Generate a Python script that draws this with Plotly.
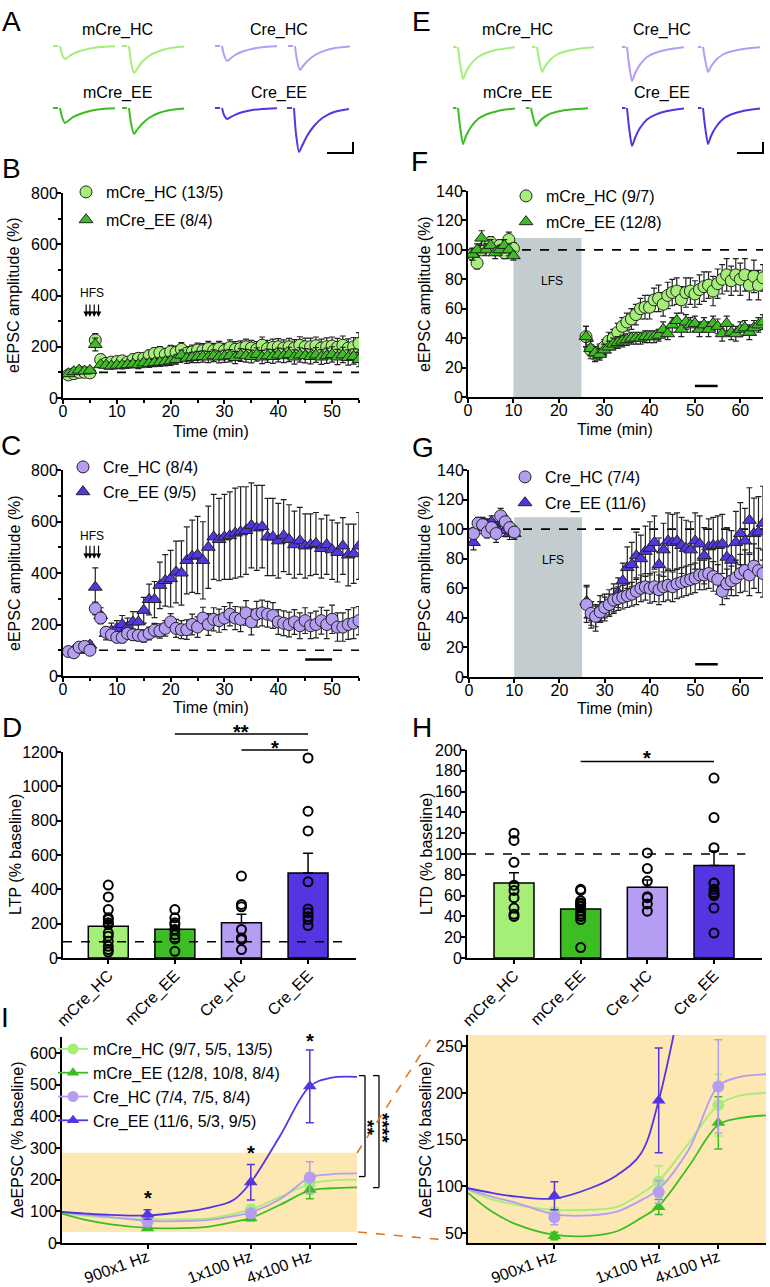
import plotly.graph_objects as go

W, H = 770, 1287
FONT = "Arial, Liberation Sans, sans-serif"

# colours
MHC = "#a5ee78"   # mCre_HC
MEE = "#3dbd24"   # mCre_EE
CHC = "#b49df2"   # Cre_HC
CEE = "#5534e2"   # Cre_EE
EDGE = "#222222"
YELLOW = "#fde8b4"

# ---------------- data ----------------
# A / E example traces (pA)
slow_t = [0, 5, 5.5, 7, 9, 12, 15, 20, 27, 36, 47, 62]
fast_t = [0, 3.5, 4, 5, 7, 10, 13, 18, 25, 33, 45, 62]

a_mhc_pre = [0, 0, None, 0, -8, -13, -11, -8, -5, -2.7, -1.1, -0.3]
a_mhc_post = [0, 0, None, 0, -16, -27, -23, -16, -10, -5.5, -2.3, -0.5]
a_chc_pre = [0, 0, None, 0, -9, -15, -13, -9, -5.8, -3.1, -1.3, -0.3]
a_chc_post = [0, 0, None, 0, -14, -24, -20, -14.5, -9, -4.9, -2, -0.5]
a_mee_pre = [0, 0, None, 0, -9, -15, -13, -9.2, -6, -3.2, -1.3, -0.3]
a_mee_post = [0, 0, None, 0, -15, -26, -22, -16, -10, -5.3, -2.2, -0.5]
a_cee_pre = [0, 0, None, 0, -7, -11, -9.5, -6.8, -4.3, -2.3, -0.9, -0.2]
a_cee_post = [0, 0, None, 0, -26, -44, -38, -28, -18, -9.5, -4, -1]

e_mhc_pre = [0, 0, None, 0, -16, -32, -25, -17, -10, -6, -2.6, -0.3]
e_mhc_post = [0, 0, None, 0, -12, -25, -19.5, -13, -7.5, -4.5, -2, -0.3]
e_chc_pre = [0, 0, None, 0, -17, -34, -26.5, -17.7, -10, -6, -2.7, -0.3]
e_chc_post = [0, 0, None, 0, -12, -25, -19.5, -13, -7.5, -4.5, -2, -0.3]
e_mee_pre = [0, 0, None, 0, -18, -36, -28, -19, -11, -6.5, -2.9, -0.4]
e_mee_post = [0, 0, None, 0, -9, -18, -14, -9.4, -5.4, -3.2, -1.4, -0.2]
e_cee_pre = [0, 0, None, 0, -19, -38, -30, -20, -11.4, -6.8, -3, -0.4]
e_cee_post = [0, 0, None, 0, -18, -36, -28, -19, -11, -6.5, -2.9, -0.4]

# B / C: LTP time course (% of baseline)
bc_time = list(range(1, 56))
b_mhc = [90, 95, 100, 100, 98, 226, 150, 135, 140, 142,
         145, 140, 150, 155, 155, 165, 174, 177, 170, 180,
         178, 190, 175, 180, 187, 185, 193, 185, 193, 185,
         197, 190, 193, 200, 195, 190, 206, 193, 198, 200,
         195, 200, 195, 206, 200, 200, 204, 195, 200, 203,
         198, 206, 195, 200, 213]
b_mhc_err = [12, 10, 8, 10, 10, 25, 20, 15, 15, 18,
             18, 18, 20, 20, 20, 22, 22, 24, 24, 25,
             25, 26, 26, 26, 27, 27, 28, 28, 28, 28,
             30, 30, 30, 30, 30, 30, 32, 32, 32, 32,
             32, 33, 33, 33, 34, 34, 34, 35, 35, 35,
             35, 36, 36, 36, 42]
b_mee = [95, 103, 109, 105, 108, 209, 130, 128, 125, 128,
         128, 130, 132, 130, 137, 135, 138, 140, 142, 145,
         150, 167, 155, 158, 160, 162, 160, 165, 160, 163,
         165, 158, 168, 165, 162, 170, 160, 165, 162, 168,
         165, 170, 160, 168, 165, 162, 168, 160, 165, 170,
         160, 168, 158, 162, 150]
b_mee_err = [10, 10, 8, 8, 10, 25, 12, 12, 12, 12,
             14, 14, 14, 15, 15, 16, 16, 17, 17, 18,
             18, 20, 20, 20, 22, 22, 22, 23, 23, 24,
             24, 24, 25, 25, 25, 26, 26, 26, 27, 27,
             27, 28, 28, 28, 28, 29, 29, 29, 30, 30,
             30, 30, 30, 30, 28]
c_chc = [95, 90, 112, 115, 100, 262, 225, 170, 160, 150,
         150, 165, 160, 158, 155, 165, 178, 175, 185, 210,
         185, 180, 180, 200, 190, 225, 200, 220, 215, 225,
         240, 225, 220, 245, 210, 240, 245, 240, 235, 210,
         205, 200, 210, 195, 215, 195, 200, 215, 200, 220,
         190, 190, 200, 205, 215]
c_chc_err = [8, 8, 10, 10, 10, 25, 22, 18, 18, 18,
             20, 20, 22, 22, 24, 25, 26, 28, 30, 32,
             35, 35, 38, 40, 40, 42, 42, 45, 45, 45,
             45, 45, 48, 48, 50, 50, 50, 50, 50, 48,
             48, 48, 48, 50, 50, 50, 52, 52, 55, 55,
             55, 55, 58, 60, 55]
c_cee = [95, 100, 105, 100, 120, 345, 235, 165, 175, 185,
         200, 190, 210, 210, 255, 297, 297, 352, 371, 378,
         404, 400, 449, 465, 470, 449, 500, 540, 530, 540,
         545, 555, 560, 565, 585, 575, 580, 540, 540, 525,
         545, 530, 510, 525, 505, 510, 515, 495, 510, 490,
         480, 505, 470, 475, 505]
c_cee_err = [10, 10, 10, 10, 15, 75, 30, 25, 30, 30,
             35, 35, 40, 40, 50, 60, 70, 90, 100, 110,
             120, 125, 130, 140, 150, 150, 160, 165, 160, 165,
             170, 175, 175, 170, 165, 165, 160, 150, 150, 145,
             140, 135, 130, 130, 125, 120, 120, 115, 115, 115,
             115, 110, 120, 115, 130]

# F / G: LTD time course (% of baseline)
fg_time = list(range(1, 11)) + list(range(26, 66))
f_mhc = [97, 91, 100, 103, 105, 100, 103, 98, 107, 101,
         41, 32, 29, 31, 34, 38, 40, 44, 48, 51,
         53, 56, 60, 61, 61, 66, 67, 63, 69, 71,
         72, 66, 71, 72, 70, 73, 75, 76, 72, 77,
         80, 83, 79, 83, 80, 83, 76, 82, 76, 81]
f_mhc_err = [4, 4, 3, 4, 4, 3, 4, 4, 5, 4,
             7, 6, 5, 5, 5, 6, 6, 6, 6, 6,
             7, 7, 7, 8, 8, 8, 9, 8, 9, 9,
             9, 9, 10, 9, 9, 10, 10, 9, 10, 10,
             10, 11, 10, 11, 11, 11, 10, 11, 10, 9]
f_mee = [97, 100, 108, 100, 103, 98, 100, 103, 100, 96,
         41, 33, 30, 29, 32, 34, 36, 37, 38, 39,
         40, 40, 40, 41, 41, 41, 42, 46, 43, 49,
         52, 46, 51, 49, 50, 46, 49, 46, 50, 48,
         43, 50, 44, 43, 46, 47, 44, 47, 49, 51]
f_mee_err = [4, 4, 5, 4, 4, 4, 3, 4, 4, 3,
             7, 5, 4, 4, 4, 4, 4, 4, 4, 4,
             4, 4, 4, 4, 4, 4, 4, 5, 4, 5,
             5, 5, 5, 5, 5, 5, 5, 5, 5, 5,
             5, 5, 5, 5, 5, 5, 5, 5, 5, 5]
g_chc = [97, 104, 103, 98, 101, 97, 109, 105, 101, 98,
         49, 43, 41, 44, 47, 49, 52, 53, 54, 55,
         56, 58, 60, 61, 60, 61, 59, 61, 62, 61,
         63, 64, 65, 66, 67, 69, 69, 70, 68, 66,
         58, 63, 65, 67, 70, 72, 69, 75, 72, 70]
g_chc_err = [4, 4, 4, 4, 4, 6, 5, 4, 4, 4,
             12, 8, 7, 7, 7, 7, 8, 8, 8, 8,
             8, 9, 9, 9, 10, 10, 10, 10, 10, 10,
             10, 10, 10, 10, 10, 10, 10, 10, 10, 10,
             9, 10, 10, 12, 13, 14, 14, 15, 15, 16]
g_cee = [91, 101, 104, 103, 105, 101, 104, 99, 97, 97,
         51, 42, 40, 46, 47, 50, 53, 57, 65, 74,
         76, 82, 80, 85, 87, 91, 76, 86, 92, 91,
         92, 89, 87, 86, 92, 90, 82, 88, 89, 89,
         90, 81, 79, 91, 97, 92, 106, 97, 98, 104]
g_cee_err = [5, 4, 4, 4, 4, 4, 4, 4, 4, 4,
             11, 9, 9, 9, 9, 9, 10, 10, 12, 14,
             15, 16, 16, 17, 18, 18, 18, 18, 19, 19,
             19, 19, 19, 19, 19, 19, 19, 19, 19, 20,
             20, 20, 20, 21, 21, 22, 22, 24, 24, 25]

# D / H: summary bars
groups = ["mCre_HC", "mCre_EE", "Cre_HC", "Cre_EE"]
d_mean = [185, 167, 205, 495]
d_sem = [25, 22, 50, 115]
d_mhc_pts = [425, 356, 282, 234, 224, 205, 195, 146, 127, 97, 68, 49, 35]
d_mee_pts = [282, 234, 205, 195, 166, 136, 111, 39]
d_chc_pts = [477, 312, 298, 166, 117, 110, 107, 49]
d_cee_pts = [1165, 855, 740, 444, 286, 263, 240, 224, 189]
h_mean = [72, 47, 68, 89]
h_sem = [10, 4, 7, 14]
h_mhc_pts = [120, 113, 92, 70, 65, 58, 48, 42, 40]
h_mee_pts = [66, 65, 55, 53, 52, 50, 49, 45, 42, 40, 37, 10]
h_chc_pts = [101, 86, 74, 59, 58, 52, 45]
h_cee_pts = [173, 135, 106, 72, 66, 63, 61, 60, 48, 24, 72]

# I: frequency response (mean, sem) and fitted curves
i_x = [2.9, 6.4, 8.4]
i_labels = ["900x1 Hz", "1x100 Hz", "4x100 Hz"]
i_mhc = [72, 105, 187]
i_mhc_err = [5, 17, 33]
i_mee = [47, 78, 168]
i_mee_err = [4, 8, 28]
i_chc = [67, 94, 207]
i_chc_err = [8, 12, 50]
i_cee = [90, 192, 495]
i_cee_err = [15, 56, 115]
fit_x = [0, 0.8, 1.65, 2.9, 4.1, 5.0, 5.8, 6.4, 7.4, 8.4, 9.1, 10]
fit_mhc = [96, 86, 80, 75, 75, 78, 92, 106, 146, 187, 197, 200]
fit_mee = [93, 73, 59, 48, 47, 52, 66, 79, 121, 166, 173, 176]
fit_chc = [97, 89, 82, 70, 69, 73, 85, 97, 139, 207, 217, 220]
fit_cee = [98, 93, 89, 87, 98, 112, 135, 192, 340, 495, 522, 525]

# ---------------- figure ----------------
fig = go.Figure()
axes_layout = {}
count = [0]


def new_axes(x0, x1, y0, y1, xkw, ykw):
    count[0] += 1
    s = "" if count[0] == 1 else str(count[0])
    axes_layout["xaxis" + s] = dict(domain=[x0 / W, x1 / W], anchor="y" + s, **xkw)
    axes_layout["yaxis" + s] = dict(domain=[1 - y1 / H, 1 - y0 / H], anchor="x" + s, **ykw)
    return "x" + s, "y" + s


def axis(standoff=-4, **kw):
    d = dict(showline=True, linecolor="black", linewidth=2, ticks="outside", ticklen=4,
             tickwidth=2, tickcolor="black", showgrid=False, zeroline=False, automargin=False,
             ticklabelstandoff=standoff, tickfont=dict(family=FONT, size=16, color="black"))
    d.update(kw)
    return d


MINOR = lambda step: dict(dtick=step, ticklen=3, tickwidth=1.5, tickcolor="black", ticks="outside")
HIDDEN = dict(visible=False, showgrid=False, zeroline=False)

shapes = []
annotations = []


def text(x, y, s, size=16, **kw):
    annotations.append(dict(x=x / W, y=1 - y / H, xref="paper", yref="paper", text=s,
                            xanchor="center", yanchor="middle", showarrow=False,
                            font=dict(family=FONT, size=size, color="black"), **kw))


def hline(xa, ya, x0, x1, y, dash="dash", width=1.6, layer="below"):
    shapes.append(dict(type="line", xref=xa, yref=ya, x0=x0, x1=x1, y0=y, y1=y,
                       line=dict(color="black", width=width, dash=dash), layer=layer))


def tc(xa, ya, t, v, e, color, symbol, name, legend, rank, size=12):
    fig.add_trace(go.Scatter(
        x=t, y=v, mode="markers", name=name, xaxis=xa, yaxis=ya, legend=legend,
        legendgroup=name, legendrank=rank,
        marker=dict(symbol=symbol, size=size, color=color, line=dict(color=EDGE, width=1)),
        error_y=dict(type="data", array=e, color=EDGE, thickness=1.2, width=3)))


# ----- A and E example traces
def trace_axes(x0, base, t, vals, color):
    xa, ya = new_axes(x0, x0 + 62, base - 5, base + 45,
                      dict(HIDDEN, range=[0, 62]), dict(HIDDEN, range=[-45, 5]))
    fig.add_trace(go.Scatter(x=t, y=vals, mode="lines", xaxis=xa, yaxis=ya, showlegend=False,
                             line=dict(color=color, width=2, shape="spline", smoothing=0.6),
                             hoverinfo="skip"))


for x0, base, vals, col in [(53, 46, a_mhc_pre, MHC), (122, 46, a_mhc_post, MHC),
                            (215, 46, a_chc_pre, CHC), (288, 46, a_chc_post, CHC),
                            (53, 108, a_mee_pre, MEE), (122, 108, a_mee_post, MEE),
                            (215, 108, a_cee_pre, CEE), (287, 108, a_cee_post, CEE)]:
    trace_axes(x0, base, slow_t, vals, col)
for x0, base, vals, col in [(453, 47, e_mhc_pre, MHC), (532, 47, e_mhc_post, MHC),
                            (622, 47, e_chc_pre, CHC), (698, 47, e_chc_post, CHC),
                            (453, 108, e_mee_pre, MEE), (526, 108, e_mee_post, MEE),
                            (622, 108, e_cee_pre, CEE), (698, 108, e_cee_post, CEE)]:
    trace_axes(x0, base, fast_t, vals, col)

for cx, lab in [(117, "mCre_HC"), (279, "Cre_HC"), (517, "mCre_HC"), (662, "Cre_HC")]:
    text(cx, 30, lab)
for cx, lab in [(117, "mCre_EE"), (279, "Cre_EE"), (517, "mCre_EE"), (662, "Cre_EE")]:
    text(cx, 93, lab)
for x1 in (353, 763):
    shapes.append(dict(type="path", xref="paper", yref="paper",
                       path=f"M{(x1 - 26) / W},{1 - 153 / H} L{x1 / W},{1 - 153 / H} L{x1 / W},{1 - 142 / H}",
                       line=dict(color="black", width=2)))

# ----- B
xb, yb = new_axes(63, 359, 193, 398,
                  axis(standoff=-6, range=[0, 55], dtick=10, minor=MINOR(5)),
                  axis(range=[0, 800], dtick=200, minor=MINOR(100)))
hline(xb, yb, 0, 55, 100)
tc(xb, yb, bc_time, b_mhc, b_mhc_err, MHC, "circle", "mCre_HC (13/5)", "legend", 1)
tc(xb, yb, bc_time, b_mee, b_mee_err, MEE, "triangle-up", "mCre_EE (8/4)", "legend", 2)
hline(xb, yb, 45, 50, 62, dash="solid", width=2.5, layer="above")

# ----- C
xc, yc = new_axes(63, 359, 470, 676,
                  axis(standoff=-6, range=[0, 55], dtick=10, minor=MINOR(5)),
                  axis(range=[0, 800], dtick=200, minor=MINOR(100)))
hline(xc, yc, 0, 55, 100)
tc(xc, yc, bc_time, c_cee, c_cee_err, CEE, "triangle-up", "Cre_EE (9/5)", "legend2", 2)
tc(xc, yc, bc_time, c_chc, c_chc_err, CHC, "circle", "Cre_HC (8/4)", "legend2", 1)
hline(xc, yc, 45, 50, 64, dash="solid", width=2.5, layer="above")

# HFS arrows
hfs_t = [4.3, 5.0, 5.8, 6.6]
for xa, ya, top, tip, ty in [(xb, yb, 371, 316, 410), (xc, yc, 512, 455, 544)]:
    annotations.append(dict(x=5.4, y=ty, xref=xa, yref=ya, text="HFS", showarrow=False,
                            font=dict(family=FONT, size=12, color="black")))
    for t in hfs_t:
        annotations.append(dict(x=t, y=tip, ax=t, ay=top, xref=xa, yref=ya, axref=xa, ayref=ya,
                                text="", showarrow=True, arrowhead=2, arrowsize=0.9,
                                arrowwidth=1.2, arrowcolor="black"))

# ----- D
xd, yd = new_axes(63, 356, 752, 958,
                  axis(range=[-0.68, 3.72], tickvals=[0, 1, 2, 3], ticktext=groups, tickangle=-45),
                  axis(range=[0, 1200], dtick=200))
fig.add_trace(go.Bar(x=[0, 1, 2, 3], y=d_mean, xaxis=xd, yaxis=yd, width=0.6, showlegend=False,
                     marker=dict(color=[MHC, MEE, CHC, CEE], line=dict(color="black", width=1.5)),
                     error_y=dict(type="data", symmetric=False, array=d_sem, arrayminus=[0] * 4,
                                  color="black", thickness=1.5, width=5)))
for i, pts in enumerate([d_mhc_pts, d_mee_pts, d_chc_pts, d_cee_pts]):
    fig.add_trace(go.Scatter(x=[i] * len(pts), y=pts, mode="markers", xaxis=xd, yaxis=yd,
                             showlegend=False,
                             marker=dict(symbol="circle-open", size=9, color="black", line=dict(width=2))))
hline(xd, yd, -0.68, 3.52, 95, layer="above")

# ----- F
xf, yf = new_axes(468, 763, 191, 397,
                  axis(standoff=-6, range=[0, 65], dtick=10),
                  axis(range=[0, 140], dtick=20))
# ----- G
xg, yg = new_axes(469, 763, 470, 677,
                  axis(standoff=-6, range=[0, 65], dtick=10),
                  axis(range=[0, 140], dtick=20))
for xa, ya in [(xf, yf), (xg, yg)]:
    shapes.append(dict(type="rect", xref=xa, yref=ya, x0=10, x1=25, y0=0, y1=108,
                       fillcolor="#c3cdcf", line=dict(width=0), layer="below"))
    hline(xa, ya, 0, 65, 100)
    annotations.append(dict(x=18.5, y=79, xref=xa, yref=ya, text="LFS", showarrow=False,
                            font=dict(family=FONT, size=12, color="black")))
tc(xf, yf, fg_time, f_mhc, f_mhc_err, MHC, "circle", "mCre_HC (9/7)", "legend3", 1)
tc(xf, yf, fg_time, f_mee, f_mee_err, MEE, "triangle-up", "mCre_EE (12/8)", "legend3", 2)
tc(xg, yg, fg_time, g_cee, g_cee_err, CEE, "triangle-up", "Cre_EE (11/6)", "legend4", 2)
tc(xg, yg, fg_time, g_chc, g_chc_err, CHC, "circle", "Cre_HC (7/4)", "legend4", 1)
hline(xf, yf, 50, 55, 7.5, dash="solid", width=2.5, layer="above")
hline(xg, yg, 50, 55, 8.6, dash="solid", width=2.5, layer="above")

# ----- H
xh, yh = new_axes(467, 762, 750, 958,
                  axis(range=[-0.705, 3.72], tickvals=[0, 1, 2, 3], ticktext=groups, tickangle=-45),
                  axis(range=[0, 200], dtick=20))
fig.add_trace(go.Bar(x=[0, 1, 2, 3], y=h_mean, xaxis=xh, yaxis=yh, width=0.6, showlegend=False,
                     marker=dict(color=[MHC, MEE, CHC, CEE], line=dict(color="black", width=1.5)),
                     error_y=dict(type="data", symmetric=False, array=h_sem, arrayminus=[0] * 4,
                                  color="black", thickness=1.5, width=5)))
for i, pts in enumerate([h_mhc_pts, h_mee_pts, h_chc_pts, h_cee_pts]):
    fig.add_trace(go.Scatter(x=[i] * len(pts), y=pts, mode="markers", xaxis=xh, yaxis=yh,
                             showlegend=False,
                             marker=dict(symbol="circle-open", size=9, color="black", line=dict(width=2))))
hline(xh, yh, -0.705, 3.47, 100, layer="above")

# ----- I (left and zoomed right)
xi, yi = new_axes(62, 357, 1037, 1243,
                  axis(standoff=-7, range=[0, 10], tickvals=i_x, ticktext=i_labels, tickangle=-20),
                  axis(range=[0, 651], dtick=100))
xj, yj = new_axes(468, 766, 1035, 1243,
                  axis(standoff=-7, range=[0, 10], tickvals=i_x, ticktext=i_labels, tickangle=-20),
                  axis(range=[39.4, 262], dtick=50))
shapes.append(dict(type="rect", xref=xi, yref=yi, x0=0, x1=10, y0=35, y1=285,
                   fillcolor=YELLOW, line=dict(width=0), layer="below"))
shapes.append(dict(type="rect", xref=xj + " domain", yref=yj + " domain", x0=0, x1=1, y0=0, y1=1,
                   fillcolor=YELLOW, line=dict(width=0), layer="below"))

series = [("mCre_HC (9/7, 5/5, 13/5)", MHC, "circle", fit_mhc, i_mhc, i_mhc_err),
          ("mCre_EE (12/8, 10/8, 8/4)", MEE, "triangle-up", fit_mee, i_mee, i_mee_err),
          ("Cre_HC (7/4, 7/5, 8/4)", CHC, "circle", fit_chc, i_chc, i_chc_err),
          ("Cre_EE (11/6, 5/3, 9/5)", CEE, "triangle-up", fit_cee, i_cee, i_cee_err)]
for name, col, sym, fit, mean, err in series:
    for xa, ya in [(xi, yi), (xj, yj)]:
        fig.add_trace(go.Scatter(x=fit_x, y=fit, mode="lines", xaxis=xa, yaxis=ya, showlegend=False,
                                 line=dict(color=col, width=1.8, shape="spline", smoothing=1)))
        fig.add_trace(go.Scatter(x=i_x, y=mean, mode="markers", xaxis=xa, yaxis=ya, showlegend=False,
                                 marker=dict(symbol=sym, size=12, color=col),
                                 error_y=dict(type="data", array=err, color=col, thickness=1.5, width=4)))
    fig.add_trace(go.Scatter(x=[None], y=[None], mode="lines+markers", name=name, xaxis=xi, yaxis=yi,
                             legend="legend5", line=dict(color=col, width=1.8),
                             marker=dict(symbol=sym, size=11, color=col)))

# significance brackets right of I
for xv, xt, top, bot in [(365, 359, 529, 210), (379, 373, 529, 175)]:
    shapes.append(dict(type="line", xref="paper", yref=yi, x0=xv / W, x1=xv / W, y0=top, y1=bot,
                       line=dict(color="black", width=1.3)))
    shapes.append(dict(type="line", xref="paper", yref=yi, x0=xt / W, x1=xv / W, y0=top, y1=top,
                       line=dict(color="black", width=1.3)))
    shapes.append(dict(type="line", xref="paper", yref=yi, x0=xt / W, x1=xv / W, y0=bot, y1=bot,
                       line=dict(color="black", width=1.3)))
text(368, 1127, "<b>**</b>", size=19, textangle=90)
text(383, 1128, "<b>****</b>", size=19, textangle=90)

# orange connectors between the zoom box and the right panel
for x0, y0, x1, y1 in [(357, 1153, 432, 1037), (358, 1232, 446, 1240)]:
    shapes.append(dict(type="line", xref="paper", yref="paper", x0=x0 / W, x1=x1 / W,
                       y0=1 - y0 / H, y1=1 - y1 / H,
                       line=dict(color="#e07a22", width=1.6, dash="dash")))

# significance in D, H, I
for x0, x1, y in [(1, 3, 734), (2, 3, 750)]:
    shapes.append(dict(type="line", xref=xd, yref="paper", x0=x0, x1=x1, y0=1 - y / H, y1=1 - y / H,
                       line=dict(color="black", width=1.5)))
annotations.append(dict(x=2, y=1 - 719 / H, xref=xd, yref="paper", yanchor="top", text="<b>**</b>",
                        showarrow=False, font=dict(family=FONT, size=20, color="black")))
annotations.append(dict(x=2.5, y=1 - 735 / H, xref=xd, yref="paper", yanchor="top", text="<b>*</b>",
                        showarrow=False, font=dict(family=FONT, size=20, color="black")))
shapes.append(dict(type="line", xref=xh, yref=yh, x0=1, x1=3, y0=189, y1=189,
                   line=dict(color="black", width=1.5)))
annotations.append(dict(x=2, y=1 - 745 / H, xref=xh, yref="paper", yanchor="top", text="<b>*</b>",
                        showarrow=False, font=dict(family=FONT, size=20, color="black")))
for xv, ytop in zip(i_x, [1185, 1140, 1028]):
    annotations.append(dict(x=xv, y=1 - ytop / H, xref=xi, yref="paper", yanchor="top",
                            text="<b>*</b>", showarrow=False,
                            font=dict(family=FONT, size=20, color="black")))

# axis titles
for x, y, s in [(14, 295, "eEPSC amplitude (%)"), (14, 573, "eEPSC amplitude (%)"),
                (15, 855, "LTP (% baseline)"), (424, 294, "eEPSC amplitude (%)"),
                (424, 573, "eEPSC amplitude (%)"), (426, 854, "LTD (% baseline)"),
                (17, 1140, "ΔeEPSC (% baseline)"), (425, 1140, "ΔeEPSC (% baseline)")]:
    text(x, y, s, textangle=-90)
for x, y in [(211, 431), (211, 707), (615, 430), (615, 708)]:
    text(x, y, "Time (min)")

# panel letters
for x, y, s in [(11, 21, "A"), (11, 168, "B"), (11, 446, "C"), (12, 727, "D"), (5, 1017, "I"),
                (421, 21, "E"), (420, 162, "F"), (423, 447, "G"), (422, 727, "H")]:
    text(x, y, s, size=28)


def legend_at(x, y, gap=0):
    return dict(x=x / W, y=1 - y / H, xanchor="left", yanchor="top", bgcolor="rgba(0,0,0,0)",
                font=dict(family=FONT, size=16, color="black"), tracegroupgap=gap,
                itemsizing="trace", borderwidth=0)


fig.update_layout(
    width=W, height=H, margin=dict(l=0, r=0, t=0, b=0, autoexpand=False),
    paper_bgcolor="white", plot_bgcolor="white",
    font=dict(family=FONT, size=16, color="black"),
    legend=legend_at(66, 175, 4), legend2=legend_at(63, 450, 1),
    legend3=legend_at(506, 179, 2), legend4=legend_at(505, 460, 2),
    legend5=legend_at(53, 1032, 0),
    shapes=shapes, annotations=annotations, **axes_layout)

# the page body has a default 8px margin; drop it so the figure sits at the window origin
fig.write_html("out.html", config={"displayModeBar": False},
               post_script="document.body.style.margin='0';")
